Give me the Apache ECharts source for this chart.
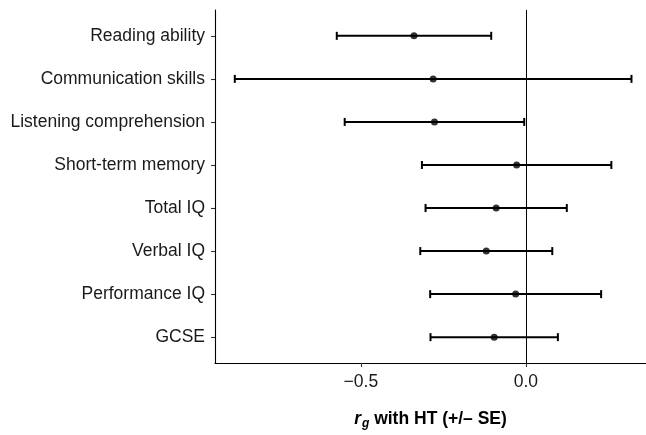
<!DOCTYPE html>
<html>
<head>
<meta charset="utf-8">
<script src="https://cdn.jsdelivr.net/npm/echarts@6/dist/echarts.min.js"></script>
<style>html,body{margin:0;padding:0;background:#fff}#c{width:646px;height:435px}</style>
</head>
<body>
<div id="c"></div>
<script>
const categories = ['Reading ability','Communication skills','Listening comprehension','Short-term memory','Total IQ','Verbal IQ','Performance IQ','GCSE'];
const estimates = [-0.339, -0.281, -0.277, -0.028, -0.090, -0.120, -0.031, -0.096];
const stdErrors = [0.234, 0.601, 0.272, 0.287, 0.214, 0.200, 0.259, 0.193];
const xTicks = [-0.5, 0.0];

const FONT = "'Liberation Sans', Arial, Helvetica, sans-serif";
const rowIdx = categories.map((c, i) => i);
const barData = categories.map((c, i) => [i, estimates[i] - stdErrors[i], estimates[i] + stdErrors[i]]);
const pointData = categories.map((c, i) => [estimates[i], i]);

const chart = echarts.init(document.getElementById('c'), null, {renderer: 'canvas'});
chart.setOption({
  animation: false,
  backgroundColor: '#fff',
  grid: {left: 215, right: 0, top: 10, height: 355, containLabel: false},
  xAxis: {
    type: 'value', min: -0.942, max: 0.364,
    splitLine: {show: false},
    axisLine: {show: true, onZero: false, lineStyle: {color: '#000', width: 1.1}},
    axisTick: {show: true, length: 4, lineStyle: {color: '#333', width: 1.1}, customValues: xTicks},
    axisLabel: {customValues: xTicks, margin: 10, fontFamily: FONT, fontSize: 17.5, color: '#1a1a1a',
      formatter: v => v.toFixed(1).replace('-', '\u2212')},
    name: '{r|r}{g|g}{t| with HT (+/\u2013 SE)}',
    nameLocation: 'middle', nameGap: 46,
    nameTextStyle: {
      rich: {
        r: {fontFamily: FONT, fontSize: 17.5, fontWeight: 'bold', fontStyle: 'italic', color: '#000'},
        g: {fontFamily: FONT, fontSize: 12, fontWeight: 'bold', fontStyle: 'italic', color: '#000', verticalAlign: 'bottom', padding: [9, 0, 0, 1]},
        t: {fontFamily: FONT, fontSize: 17.5, fontWeight: 'bold', color: '#000'}
      }
    }
  },
  yAxis: {
    type: 'value', min: -0.6, max: 7.6, inverse: true,
    splitLine: {show: false},
    axisLine: {show: true, onZero: false, lineStyle: {color: '#000', width: 1.1}},
    axisTick: {show: true, length: 4, lineStyle: {color: '#333', width: 1.1}, customValues: rowIdx},
    axisLabel: {customValues: rowIdx, margin: 10, fontFamily: FONT, fontSize: 17.5, color: '#1a1a1a',
      formatter: v => categories[Math.round(v)]}
  },
  series: [
    {
      type: 'custom',
      data: barData,
      encode: {x: [1, 2], y: 0},
      renderItem: function (params, api) {
        const y = api.value(0);
        const lo = api.coord([api.value(1), y]);
        const hi = api.coord([api.value(2), y]);
        const h = 4;
        const st = {stroke: '#000', lineWidth: 2};
        return {type: 'group', children: [
          {type: 'line', shape: {x1: lo[0], y1: lo[1], x2: hi[0], y2: hi[1]}, style: st},
          {type: 'line', shape: {x1: lo[0], y1: lo[1] - h, x2: lo[0], y2: lo[1] + h}, style: st},
          {type: 'line', shape: {x1: hi[0], y1: hi[1] - h, x2: hi[0], y2: hi[1] + h}, style: st}
        ]};
      },
      z: 3
    },
    {
      type: 'scatter',
      data: pointData,
      symbol: 'circle', symbolSize: 7,
      itemStyle: {color: '#000'},
      z: 4,
      markLine: {
        silent: true, symbol: 'none', label: {show: false},
        lineStyle: {color: '#000', width: 1, type: 'solid'},
        data: [{xAxis: 0}]
      }
    }
  ]
});
</script>
</body>
</html>
